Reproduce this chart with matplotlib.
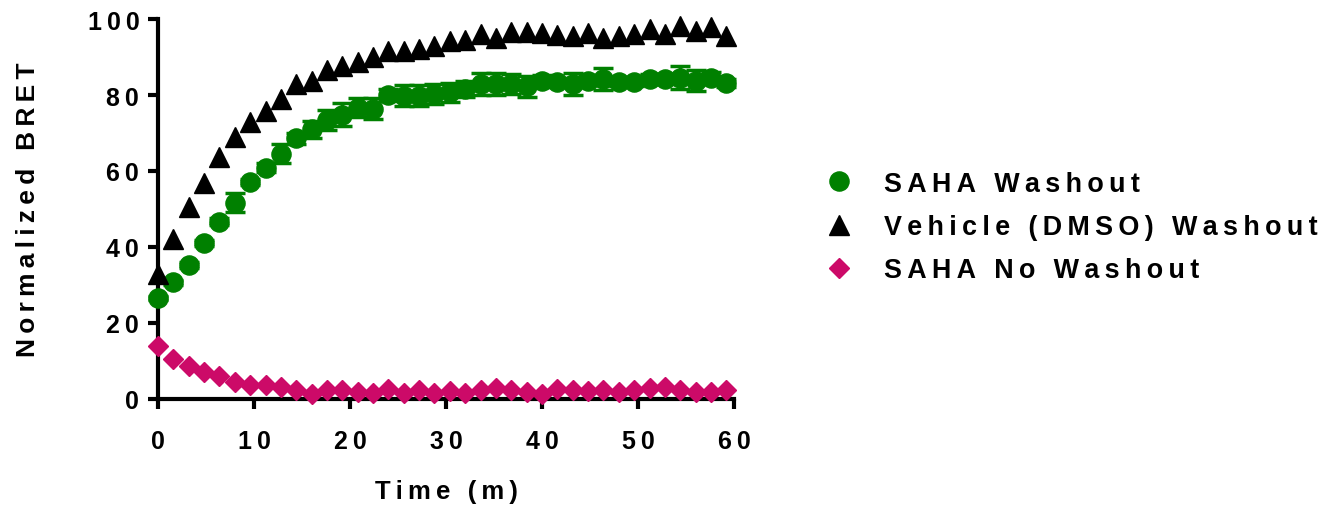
import matplotlib
matplotlib.use("Agg")
import matplotlib.pyplot as plt
import numpy as np

plt.rcParams['font.family'] = ['Liberation Sans', 'DejaVu Sans']
plt.rcParams['font.weight'] = 'bold'

# Data
time_min = [0.0, 1.6, 3.2, 4.8, 6.4, 8.0, 9.6, 11.2, 12.8, 14.4,
            16.0, 17.6, 19.2, 20.8, 22.4, 24.0, 25.6, 27.2, 28.8, 30.4,
            32.0, 33.6, 35.2, 36.8, 38.4, 40.0, 41.6, 43.2, 44.8, 46.4,
            48.0, 49.6, 51.2, 52.8, 54.4, 56.0, 57.6, 59.2]

saha_washout = [26.6, 30.7, 35.3, 41.0, 46.7, 51.7, 57.1, 60.9, 64.5, 68.6,
                71.0, 73.4, 74.8, 76.6, 76.4, 80.0, 79.8, 79.8, 80.3, 80.7,
                81.6, 82.9, 82.9, 82.9, 82.3, 83.8, 83.3, 82.9, 83.8, 84.2,
                83.5, 83.5, 84.2, 84.2, 84.6, 83.8, 84.6, 83.2]
saha_washout_err = [0.5, 0.6, 0.8, 0.8, 1.0, 2.6, 0.9, 1.2, 2.5, 1.5,
                    2.2, 2.6, 3.0, 2.5, 2.8, 1.5, 2.8, 2.8, 2.6, 2.5,
                    2.2, 2.8, 3.0, 2.6, 2.8, 1.5, 1.2, 2.8, 1.2, 3.0,
                    1.2, 1.0, 1.2, 1.2, 3.0, 2.8, 1.5, 1.0]

vehicle_washout = [33.0, 42.0, 50.5, 56.8, 63.6, 69.0, 72.9, 75.7, 79.0, 82.8,
                   83.7, 86.7, 87.7, 88.8, 89.9, 91.7, 91.7, 92.1, 93.0, 94.2,
                   94.4, 96.0, 95.0, 96.5, 96.5, 96.2, 95.7, 95.4, 96.2, 95.0,
                   95.6, 96.0, 97.4, 96.0, 98.2, 96.9, 97.8, 95.4]

saha_no_washout = [14.0, 10.5, 8.6, 7.2, 6.1, 4.6, 3.7, 3.7, 3.1, 2.5,
                   1.3, 2.5, 2.4, 1.8, 1.5, 2.6, 1.5, 2.5, 1.6, 2.2,
                   1.7, 2.5, 2.8, 2.5, 1.9, 1.3, 2.6, 2.5, 2.2, 2.5,
                   1.9, 2.5, 2.8, 3.1, 2.5, 1.9, 1.9, 2.5]

x_ticks = [0, 10, 20, 30, 40, 50, 60]
y_ticks = [0, 20, 40, 60, 80, 100]

green = '#008000'
pink = '#CC0A68'


def spaced(s):
    # GraphPad style letter spacing
    return '\u2009'.join(str(s))


fig = plt.figure(figsize=(13.42, 5.06), dpi=100)
ax = fig.add_axes([158 / 1342, 106 / 506, 576 / 1342, 380 / 506])

ax.errorbar(time_min, saha_washout, yerr=saha_washout_err, fmt='none',
            ecolor=green, elinewidth=2.5, capsize=7, capthick=2.5,
            clip_on=False, zorder=3)
h1, = ax.plot(time_min, saha_washout, 'o', color=green, ms=13.8,
              mec=green, clip_on=False, zorder=4)
h2, = ax.plot(time_min, vehicle_washout, '^', color='black', ms=14,
              mec='black', clip_on=False, zorder=4)
h3, = ax.plot(time_min, saha_no_washout, 'D', color=pink, ms=10,
              mec=pink, clip_on=False, zorder=5)

ax.set_xlim(0, 60)
ax.set_ylim(0, 100)
ax.set_xticks(x_ticks, labels=[spaced(v) for v in x_ticks])
ax.set_yticks(y_ticks, labels=[spaced(v) for v in y_ticks])
ax.tick_params(direction='out', length=7.5, width=3, labelsize=18)
ax.tick_params(axis='x', pad=14)
ax.tick_params(axis='y', pad=6)

for side in ['top', 'right']:
    ax.spines[side].set_visible(False)
for side in ['left', 'bottom']:
    ax.spines[side].set_linewidth(3)

ax.set_xlabel(spaced('Time (m)'), fontsize=18.5, fontweight='bold')
ax.xaxis.set_label_coords(0.5, -0.21)
ax.set_ylabel(spaced('Normalized BRET'), fontsize=19, fontweight='bold')
ax.yaxis.set_label_coords(-0.205, 0.5)

fig.legend([h1, h2, h3],
           [spaced('SAHA Washout'), spaced('Vehicle (DMSO) Washout'),
            spaced('SAHA No Washout')],
           loc='center left', bbox_to_anchor=(826 / 1342, 1 - 228 / 506),
           frameon=False, borderpad=0, borderaxespad=0, handlelength=1,
           handletextpad=1.15, labelspacing=0.64, numpoints=1,
           prop={'size': 19.4, 'weight': 'bold'})

fig.savefig('out.png', dpi=100)
